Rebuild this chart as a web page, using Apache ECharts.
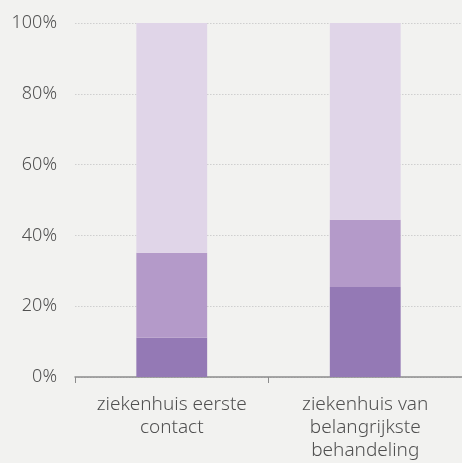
<!DOCTYPE html>
<html>
<head>
<meta charset="utf-8">
<script src="https://cdn.jsdelivr.net/npm/echarts@6/dist/echarts.min.js"></script>
<style>
  html, body { margin: 0; padding: 0; background: #f2f2f0; }
  #chart { width: 462px; height: 463px; }
</style>
</head>
<body>
<div id="chart"></div>
<script>
// Categories along the x axis
const categories = ['ziekenhuis eerste\ncontact', 'ziekenhuis van\nbelangrijkste\nbehandeling'];
// Stacked shares (percent), bottom to top
const seriesLow = [11.1, 25.4];
const seriesMid = [24.0, 19.0];
const seriesHigh = [64.9, 55.6];
const seriesColors = ['#9479b5', '#b49ac9', '#e0d5e8'];

const chart = echarts.init(document.getElementById('chart'), null, { renderer: 'canvas' });

const makeSeries = (data, color) => ({
  type: 'bar',
  stack: 'total',
  data: data,
  barWidth: '36.6%',
  itemStyle: { color: color },
  emphasis: { disabled: true }
});

chart.setOption({
  backgroundColor: '#f2f2f0',
  animation: false,
  textStyle: { fontFamily: '"Noto Sans", "Open Sans", sans-serif', fontWeight: 300 },
  grid: { left: 75, right: -4, top: 23, bottom: 86, containLabel: false },
  xAxis: {
    type: 'category',
    data: categories,
    axisLine: { show: true, lineStyle: { color: '#8c8c8c', width: 1.5 } },
    axisTick: { show: true, length: 6, lineStyle: { color: '#8c8c8c' } },
    axisLabel: { color: '#505050', fontSize: 19, fontWeight: 300, lineHeight: 23, margin: 16, interval: 0 }
  },
  yAxis: {
    type: 'value',
    min: 0,
    max: 100,
    interval: 20,
    axisLine: { show: false },
    axisTick: { show: false },
    axisLabel: { color: '#505050', fontSize: 18, fontWeight: 300, margin: 18, formatter: '{value}%' },
    splitLine: { show: true, lineStyle: { color: '#cfcfcf', type: [1.5, 1.5], width: 1 } }
  },
  series: [
    makeSeries(seriesLow, seriesColors[0]),
    makeSeries(seriesMid, seriesColors[1]),
    makeSeries(seriesHigh, seriesColors[2])
  ]
});
</script>
</body>
</html>
